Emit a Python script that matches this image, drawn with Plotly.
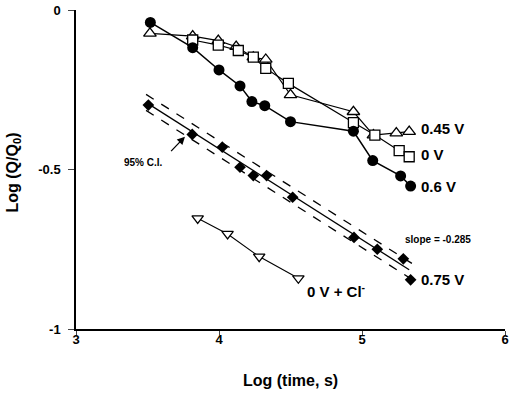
import plotly.graph_objects as go

# ---- data ----
x_06 = [3.52, 3.816, 4.00, 4.147, 4.23, 4.32, 4.50, 4.94, 5.075, 5.27, 5.34]
y_06 = [-0.039, -0.118, -0.188, -0.238, -0.287, -0.300, -0.350, -0.380, -0.472, -0.520, -0.552]

x_045 = [3.517, 3.816, 3.995, 4.12, 4.24, 4.327, 4.50, 4.94, 5.08, 5.24, 5.33]
y_045 = [-0.073, -0.082, -0.096, -0.115, -0.148, -0.155, -0.266, -0.319, -0.392, -0.386, -0.381]

x_0 = [3.816, 3.995, 4.135, 4.24, 4.327, 4.485, 4.94, 5.09, 5.26, 5.33]
y_0 = [-0.094, -0.110, -0.127, -0.148, -0.183, -0.230, -0.353, -0.392, -0.441, -0.460]

x_075 = [3.506, 3.813, 4.023, 4.147, 4.24, 4.333, 4.515, 4.944, 5.107, 5.289, 5.34]
y_075 = [-0.298, -0.390, -0.430, -0.493, -0.519, -0.519, -0.587, -0.713, -0.750, -0.780, -0.846]

x_cl = [3.851, 4.06, 4.281, 4.555]
y_cl = [-0.653, -0.702, -0.773, -0.841]

fit_slope = -0.285
fit_intercept = 0.705
fit_x = [3.49, 5.33]
ci_x = [3.49, 5.36]
ci_halfwidth = [0.025, 0.025]

x_ticks = [3, 4, 5, 6]
y_ticks = [-1, -0.5, 0]
y_ticklabels = ["-1", "-0.5", "0"]

FONT = "Arial, Liberation Sans, sans-serif"

fig = go.Figure()

fit_y = [fit_intercept + fit_slope * x for x in fit_x]
ci_fit = [fit_intercept + fit_slope * x for x in ci_x]
ci_up = [v + h for v, h in zip(ci_fit, ci_halfwidth)]
ci_lo = [v - h for v, h in zip(ci_fit, ci_halfwidth)]

for yy in (ci_up, ci_lo):
    fig.add_trace(go.Scatter(x=ci_x, y=yy, mode="lines",
                             line=dict(color="black", width=1.3, dash="dash"),
                             hoverinfo="skip"))
fig.add_trace(go.Scatter(x=fit_x, y=fit_y, mode="lines",
                         line=dict(color="black", width=1.3)))

fig.add_trace(go.Scatter(x=x_075, y=y_075, mode="markers",
                         marker=dict(symbol="diamond", size=9, color="black")))

fig.add_trace(go.Scatter(x=x_cl, y=y_cl, mode="lines+markers",
                         line=dict(color="black", width=1.1),
                         marker=dict(symbol="triangle-down", size=10, color="white",
                                     line=dict(color="black", width=1.3))))

fig.add_trace(go.Scatter(x=x_045, y=y_045, mode="lines+markers",
                         line=dict(color="black", width=1.2),
                         marker=dict(symbol="triangle-up", size=11, color="white",
                                     line=dict(color="black", width=1.3))))

fig.add_trace(go.Scatter(x=x_0, y=y_0, mode="lines+markers",
                         line=dict(color="black", width=1.2),
                         marker=dict(symbol="square", size=10, color="white",
                                     line=dict(color="black", width=1.3))))

fig.add_trace(go.Scatter(x=x_06, y=y_06, mode="lines+markers",
                         line=dict(color="black", width=1.5),
                         marker=dict(symbol="circle", size=11, color="black")))

ann_font = dict(family=FONT, size=15, color="black")
labels = [
    (5.40, -0.371, "0.45 V"),
    (5.40, -0.452, "0 V"),
    (5.40, -0.552, "0.6 V"),
    (5.40, -0.846, "0.75 V"),
    (4.60, -0.878, "0 V + Cl<sup>-</sup>"),
]
for x, y, t in labels:
    fig.add_annotation(x=x, y=y, text="<b>" + t + "</b>", showarrow=False,
                       xanchor="left", yanchor="middle", font=ann_font)

fig.add_annotation(x=5.29, y=-0.72, text="<b>slope = -0.285</b>", showarrow=False,
                   xanchor="left", yanchor="middle",
                   font=dict(family=FONT, size=10, color="black"))
fig.add_annotation(x=3.47, y=-0.478, text="<b>95% C.I.</b>", showarrow=False,
                   xanchor="center", yanchor="middle",
                   font=dict(family=FONT, size=10, color="black"))
fig.add_annotation(x=3.762, y=-0.397, ax=3.655, ay=-0.447, axref="x", ayref="y",
                   text="", showarrow=True, arrowhead=2, arrowsize=1.2,
                   arrowwidth=1.3, arrowcolor="black", standoff=0)

# axis titles
fig.add_annotation(xref="paper", yref="paper", x=0.5, y=-0.16,
                   text="<b>Log (time, s)</b>", showarrow=False,
                   xanchor="center", yanchor="middle",
                   font=dict(family=FONT, size=16, color="black"))
fig.add_annotation(xref="paper", yref="paper", x=-0.145, y=0.49,
                   text="<b>Log (Q/Q<sub>0</sub>)</b>", showarrow=False,
                   textangle=-90, xanchor="center", yanchor="middle",
                   font=dict(family=FONT, size=16, color="black"))

fig.update_layout(
    width=513, height=393,
    margin=dict(l=76, r=8, t=10, b=64),
    paper_bgcolor="white", plot_bgcolor="white",
    showlegend=False,
    font=dict(family=FONT, color="black"),
    xaxis=dict(range=[3, 6], tickvals=x_ticks, ticks="outside", ticklen=4,
               tickwidth=1.2, showgrid=False, zeroline=False, showline=True,
               linecolor="black", linewidth=1.5, automargin=False,
               ticklabelstandoff=-6,
               tickfont=dict(family=FONT, size=13, color="black", weight="bold")),
    yaxis=dict(range=[-1, 0.0], tickvals=y_ticks, ticktext=y_ticklabels,
               ticks="outside", ticklen=6, tickwidth=1.2, showgrid=False,
               zeroline=False, showline=True, linecolor="black", linewidth=1.5,
               automargin=False, ticklabelstandoff=5,
               tickfont=dict(family=FONT, size=13, color="black", weight="bold")),
)

fig.write_html("out.html", config={"displayModeBar": False},
               post_script="document.body.style.margin='0px';document.body.style.padding='0px';")
